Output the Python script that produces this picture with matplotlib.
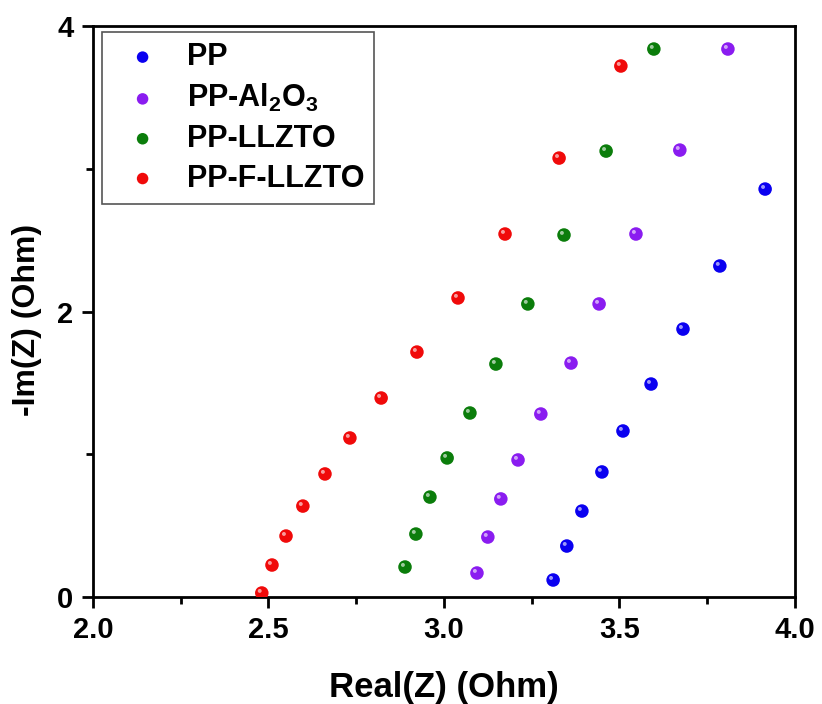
## Nyquist plot, PP separators

import matplotlib.pyplot as plt
import matplotlib.transforms as mtransforms
from matplotlib.ticker import MultipleLocator

plt.rcParams['font.family'] = ['Liberation Sans', 'DejaVu Sans']
plt.rcParams['font.weight'] = 'bold'
plt.rcParams['mathtext.fontset'] = 'custom'
plt.rcParams['mathtext.bf'] = 'Liberation Sans:bold'
plt.rcParams['mathtext.rm'] = 'Liberation Sans:bold'

# Data
pp_x = [3.311, 3.350, 3.393, 3.450, 3.510, 3.590, 3.681, 3.786, 3.915]
pp_y = [0.119, 0.357, 0.602, 0.876, 1.163, 1.492, 1.877, 2.319, 2.858]

al_x = [3.094, 3.125, 3.162, 3.211, 3.276, 3.362, 3.442, 3.547, 3.672, 3.809]
al_y = [0.168, 0.420, 0.687, 0.960, 1.282, 1.639, 2.053, 2.543, 3.131, 3.839]

llzto_x = [2.889, 2.920, 2.960, 3.009, 3.074, 3.148, 3.239, 3.342, 3.462, 3.598]
llzto_y = [0.210, 0.441, 0.700, 0.974, 1.289, 1.632, 2.053, 2.536, 3.124, 3.839]

fllzto_x = [2.481, 2.510, 2.550, 2.598, 2.661, 2.732, 2.821, 2.923, 3.040, 3.174, 3.328, 3.504]
fllzto_y = [0.028, 0.224, 0.427, 0.637, 0.862, 1.114, 1.394, 1.716, 2.095, 2.543, 3.075, 3.720]

labels = ['PP', r'PP-Al$_\mathbf{2}$O$_\mathbf{3}$', 'PP-LLZTO', 'PP-F-LLZTO']
colors = ['#0a00f0', '#8a1cf0', '#0b7d0b', '#f00a0a']
series = [(pp_x, pp_y), (al_x, al_y), (llzto_x, llzto_y), (fllzto_x, fllzto_y)]

fig = plt.figure(figsize=(8.22, 7.04), dpi=100)
ax = fig.add_axes([0.1131, 0.152, 0.854, 0.811])

# little shine on each ball
shine = mtransforms.offset_copy(ax.transData, fig=fig, x=-1.5, y=1.5, units='points')

for (xs, ys), lab, col in zip(series, labels, colors):
    ax.scatter(xs, ys, s=95, color=col, edgecolors='none', label=lab, zorder=3)
    ax.scatter(xs, ys, s=8, color='white', alpha=0.6, edgecolors='none',
               transform=shine, zorder=4)

ax.set_xlim(2.0, 4.0)
ax.set_ylim(0, 4)
ax.xaxis.set_major_locator(MultipleLocator(0.5))
ax.xaxis.set_minor_locator(MultipleLocator(0.25))
ax.yaxis.set_major_locator(MultipleLocator(2))
ax.yaxis.set_minor_locator(MultipleLocator(1))
ax.set_xticks([2.0, 2.5, 3.0, 3.5, 4.0], ['2.0', '2.5', '3.0', '3.5', '4.0'])

for s in ax.spines.values():
    s.set_linewidth(2)
ax.tick_params(which='major', direction='out', length=8, width=2, labelsize=21, pad=6)
ax.tick_params(which='minor', direction='out', length=5, width=2)
ax.tick_params(top=False, right=False)

ax.set_xlabel('Real(Z) (Ohm)', fontsize=25, fontweight='bold', labelpad=19)
ax.set_ylabel('-Im(Z) (Ohm)', fontsize=23, fontweight='bold')
ax.yaxis.set_label_coords(-0.073, 0.485)

leg = ax.legend(loc='upper left', bbox_to_anchor=(0.0128, 0.9895), fontsize=22,
                frameon=True, fancybox=False, edgecolor='#555555', framealpha=1,
                handletextpad=0.45, labelspacing=0.32, borderpad=0.33,
                borderaxespad=0, scatterpoints=1, markerscale=0.85)
leg.get_frame().set_linewidth(1.2)

fig.savefig('out.png', dpi=100)
